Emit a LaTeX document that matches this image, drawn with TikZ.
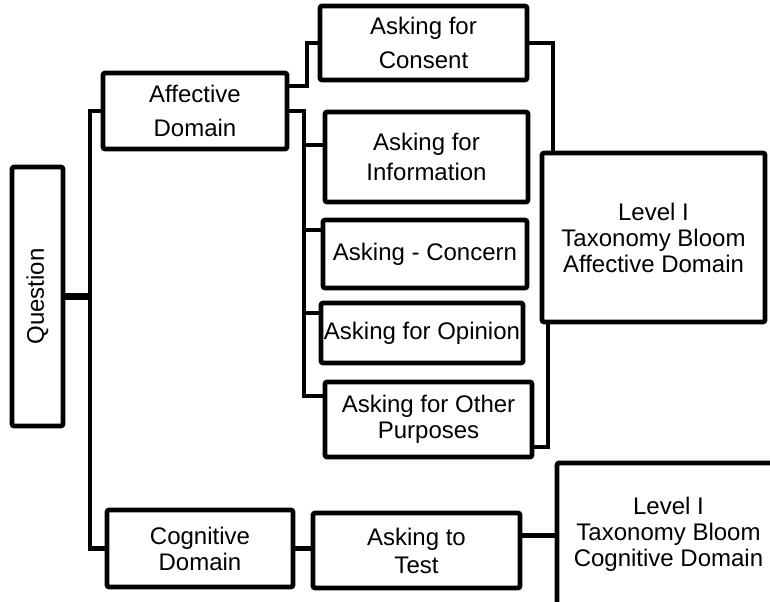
\documentclass[tikz,border=0pt]{standalone}
\usepackage{fontspec}
\setmainfont{Liberation Sans}
\usepackage{xcolor}
\usepackage{tikz}
\usetikzlibrary{calc}
\definecolor{inkblack}{RGB}{0,0,0}
\tikzset{
  box/.style={draw=inkblack,line width=3.5pt,rounded corners=1.5pt,fill=white,
    align=center,inner sep=0pt,font=\fontsize{18}{19.5}\selectfont},
  loose/.style={font=\fontsize{18}{25}\selectfont},
  link/.style={draw=inkblack,line width=3.2pt},
  trunklink/.style={draw=inkblack,line width=5.5pt}
}
\begin{document}
\begin{tikzpicture}[x=0.75pt,y=-0.75pt]
  \useasboundingbox (0,0) rectangle (770,602);
  \clip (0,0) rectangle (770,602);
  \node[box,minimum width=38.25pt,minimum height=194.25pt] (q) at (37.5,296.5) {\rotatebox{90}{Question}};
  \node[box,loose,minimum width=138pt,minimum height=57pt] (aff) at (195,111) {Affective\\Domain};
  \node[box,minimum width=139.5pt,minimum height=57.75pt] (cog) at (200,548.5) {Cognitive\\Domain};
  \node[box,loose,minimum width=155.25pt,minimum height=55.5pt] (cons) at (423.5,43) {Asking for\\Consent};
  \node[box,font=\fontsize{18}{22.5}\selectfont,minimum width=152.25pt,minimum height=67.5pt] (info) at (426.5,157) {Asking for\\Information};
  \node[box,minimum width=153pt,minimum height=51pt] (conc) at (425,254) {Asking - Concern};
  \node[box,minimum width=151.5pt,minimum height=45pt] (opin) at (422,333) {Asking for Opinion};
  \node[box,minimum width=155.25pt,minimum height=56.25pt] (other) at (428.5,419.5) {Asking for Other\\Purposes};
  \node[box,font=\fontsize{18}{21}\selectfont,minimum width=155.25pt,minimum height=56.25pt] (test) at (416.5,550.5) {Asking to\\Test};
  \node[box,minimum width=167.25pt,minimum height=126.75pt] (lvla) at (653.5,237.5) {Level I\\Taxonomy Bloom\\Affective Domain};
  \node[box,minimum width=167.25pt,minimum height=106.5pt] (lvlc) at (668.5,534) {Level I\\Taxonomy Bloom\\Cognitive Domain};

  \coordinate (trunk) at ($(aff.west)+(-11,0)$);
  \coordinate (fork) at ($(aff.east)+(15,0)$);
  \coordinate (infoin) at ($(info.north west)+(0,35)$);
  \coordinate (concin) at ($(conc.north west)+(0,12)$);
  \coordinate (opinin) at ($(opin.north west)+(0,12)$);
  \coordinate (otherin) at ($(other.north west)+(0,16)$);
  \coordinate (testout) at ($(test.east)+(0,-15)$);

  \draw[trunklink] (q.east) -- (q.east -| trunk);
  \draw[link] (aff.west) -- (trunk) |- (cog.west);
  \draw[link] ($(aff.north east)+(0,15)$) -- ++(18,0) |- (cons.west);
  \draw[link] (aff.east) -- (fork) |- (otherin);
  \draw[link] (fork |- infoin) -- (infoin);
  \draw[link] (fork |- concin) -- (concin);
  \draw[link] (fork |- opinin) -- (opinin);
  \draw[link] (cons.east) -| ($(lvla.north west)+(13,0)$);
  \draw[link] ($(other.south east)+(0,-12)$) -| ($(lvla.south west)+(8,0)$);
  \draw[link] (cog.east) -- (cog.east -| test.west);
  \draw[link] (testout) -- (testout -| lvlc.west);
\end{tikzpicture}
\end{document}
